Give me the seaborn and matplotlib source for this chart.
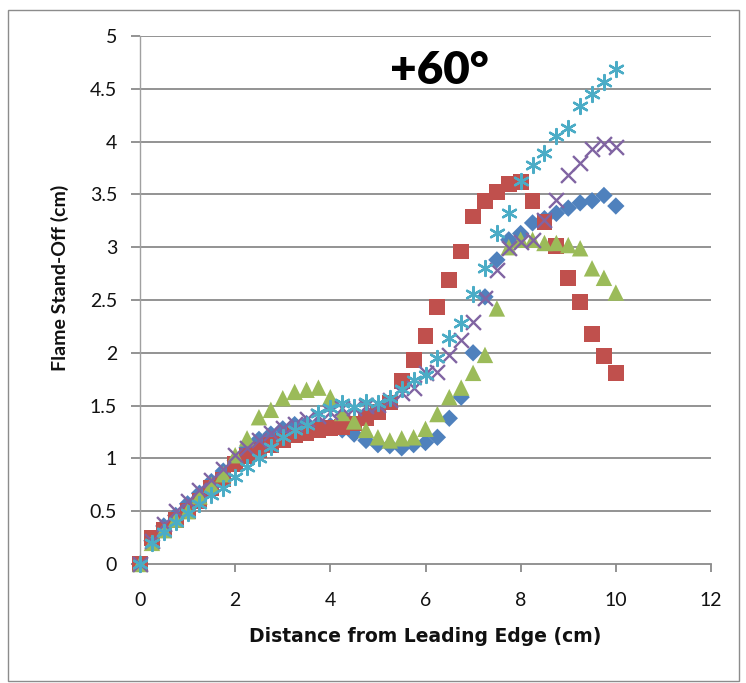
import numpy as np
import pandas as pd
import matplotlib
matplotlib.use("Agg")
import matplotlib.pyplot as plt
import seaborn as sns
from matplotlib.patches import Rectangle

# ---- data ----
distance = [0, 0.25, 0.5, 0.75, 1.0, 1.25, 1.5, 1.75, 2.0, 2.25, 2.5, 2.75, 3.0,
            3.25, 3.5, 3.75, 4.0, 4.25, 4.5, 4.75, 5.0, 5.25, 5.5, 5.75, 6.0,
            6.25, 6.5, 6.75, 7.0, 7.25, 7.5, 7.75, 8.0, 8.25, 8.5, 8.75, 9.0,
            9.25, 9.5, 9.75, 10.0]

blue = [0, 0.22, 0.36, 0.46, 0.57, 0.67, 0.78, 0.88, 0.98, 1.10, 1.18, 1.23, 1.28,
        1.32, 1.33, 1.33, 1.31, 1.27, 1.23, 1.17, 1.13, 1.12, 1.10, 1.13, 1.15,
        1.20, 1.38, 1.58, 2.00, 2.53, 2.88, 3.07, 3.13, 3.23, 3.27, 3.32, 3.37,
        3.42, 3.44, 3.49, 3.39]
red = [0, 0.25, 0.32, 0.42, 0.50, 0.60, 0.72, 0.80, 0.95, 1.02, 1.08, 1.13, 1.17,
       1.22, 1.24, 1.27, 1.29, 1.30, 1.33, 1.38, 1.44, 1.53, 1.73, 1.93, 2.16,
       2.43, 2.69, 2.96, 3.29, 3.44, 3.52, 3.60, 3.62, 3.44, 3.24, 3.01, 2.71,
       2.48, 2.18, 1.97, 1.81]
green = [0, 0.20, 0.32, 0.42, 0.50, 0.64, 0.75, 0.85, 1.03, 1.19, 1.39, 1.46, 1.57,
         1.63, 1.65, 1.67, 1.58, 1.43, 1.35, 1.27, 1.20, 1.17, 1.19, 1.20, 1.28,
         1.42, 1.58, 1.67, 1.81, 1.98, 2.42, 3.00, 3.07, 3.07, 3.04, 3.04, 3.02,
         2.99, 2.80, 2.71, 2.57]
purple = [0, 0.22, 0.38, 0.50, 0.60, 0.70, 0.80, 0.90, 1.03, 1.10, 1.17, 1.24, 1.29,
          1.33, 1.37, 1.40, 1.44, 1.48, 1.48, 1.50, 1.51, 1.55, 1.62, 1.67, 1.81,
          1.82, 1.98, 2.12, 2.29, 2.52, 2.78, 2.99, 3.05, 3.07, 3.26, 3.45, 3.68,
          3.80, 3.93, 3.98, 3.95]
cyan = [0, 0.20, 0.30, 0.40, 0.48, 0.57, 0.65, 0.72, 0.82, 0.92, 1.00, 1.11, 1.20,
        1.27, 1.32, 1.43, 1.48, 1.52, 1.49, 1.53, 1.52, 1.57, 1.66, 1.74, 1.79,
        1.95, 2.14, 2.28, 2.56, 2.80, 3.13, 3.32, 3.63, 3.78, 3.89, 4.05, 4.13,
        4.34, 4.45, 4.56, 4.69]

x_ticks = [0, 2, 4, 6, 8, 10, 12]
y_ticks = [0, 0.5, 1, 1.5, 2, 2.5, 3, 3.5, 4, 4.5, 5]
y_tick_labels = ["0", "0.5", "1", "1.5", "2", "2.5", "3", "3.5", "4", "4.5", "5"]
title_text = "+60°"
x_label = "Distance from Leading Edge (cm)"
y_label = "Flame Stand-Off (cm)"

# ---- style ----
sns.set_theme(style="white")
plt.rcParams["font.family"] = ["Lato", "DejaVu Sans"]

W, H = 746, 683
fig = plt.figure(figsize=(W / 100, H / 100), dpi=100)
ax = fig.add_axes([140 / W, (H - 564) / H, (711 - 140) / W, (564 - 36) / H])

grid_col = "#8a8a8a"
txt_col = "#111111"

series = [
    (blue, "#4F81BD", "D", 78, True),
    (red, "#C0504D", "s", 130, True),
    (green, "#9BBB59", "^", 140, True),
    (purple, "#8064A2", "x", 115, False),
    (cyan, "#4BACC6", (6, 2, 0), 115, False),
]

for i, (vals, col, mk, sz, filled) in enumerate(series):
    df = pd.DataFrame({"x": distance, "y": vals})
    if filled:
        sns.scatterplot(data=df, x="x", y="y", ax=ax, marker=mk, s=sz,
                        color=col, edgecolor="none", linewidth=0,
                        clip_on=False, zorder=3 + i, legend=False)
    else:
        sns.scatterplot(data=df, x="x", y="y", ax=ax, marker=mk, s=sz,
                        color=col, linewidth=1.7,
                        clip_on=False, zorder=3 + i, legend=False)

ax.set_xlim(0, 12)
ax.set_ylim(0, 5)
ax.set_xticks(x_ticks)
ax.set_xticklabels([str(t) for t in x_ticks])
ax.set_yticks(y_ticks)
ax.set_yticklabels(y_tick_labels)

for yv in y_ticks[1:]:
    ax.axhline(yv, color=grid_col, lw=1.3, zorder=1)

for s in ["top", "right"]:
    ax.spines[s].set_visible(False)
ax.spines["left"].set_color("#a0a0a0")
ax.spines["left"].set_linewidth(1.0)
ax.spines["bottom"].set_color(grid_col)
ax.spines["bottom"].set_linewidth(1.3)

ax.tick_params(axis="y", direction="out", length=6.5, width=1.3, color=grid_col,
               labelsize=14, pad=10, left=True)
ax.tick_params(axis="x", direction="out", length=5.5, width=1.3, color=grid_col,
               labelsize=14, pad=15, bottom=True)
for lab in ax.get_xticklabels() + ax.get_yticklabels():
    lab.set_color(txt_col)

ax.set_xlabel(x_label, fontsize=13.5, fontweight="bold", color=txt_col,
              family=["DejaVu Sans"])
ax.xaxis.set_label_coords((425 - 140) / 571, -(627 - 564) / 528)
ax.set_ylabel(y_label, fontsize=14, fontweight="bold", color=txt_col)
ax.yaxis.set_label_coords(-(140 - 69) / 571, (564 - 278) / 528)

fig.text(439 / W, 1 - 70 / H, title_text, fontsize=33, fontweight="heavy",
         ha="center", va="center", color="black")

fig.patches.append(Rectangle((7.5 / W, 2 / H), (739 - 7.5) / W, (681 - 10) / H,
                             transform=fig.transFigure, fill=False,
                             edgecolor="#8c8c8c", linewidth=1.0))

fig.savefig("out.png", dpi=100)
